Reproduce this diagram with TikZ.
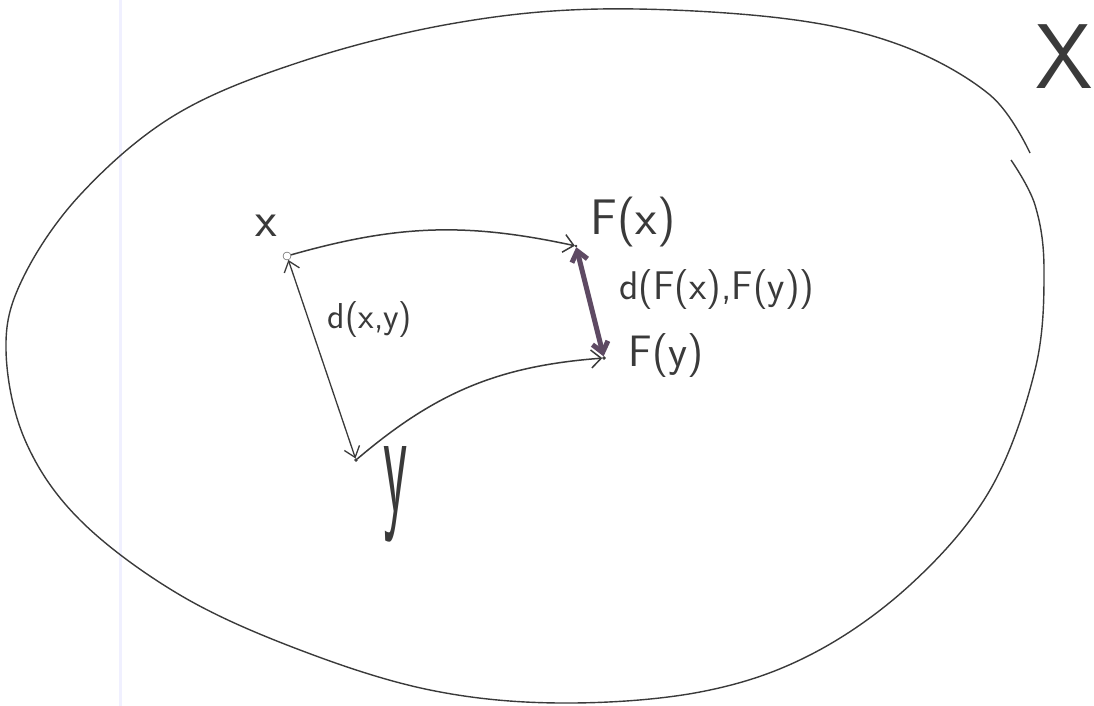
\documentclass[tikz,border=0pt]{standalone}
\usepackage{amsmath}
\usepackage{xcolor}
\usepackage{tikz}
\usetikzlibrary{arrows.meta}

\definecolor{pencil}{HTML}{3A3A3A}
\definecolor{plum}{HTML}{5E4A63}

\begin{document}
\begin{tikzpicture}[x=1pt, y=-1pt,
			% Define the styles for the points, labels and arrows
			pt/.style={circle, draw=pencil, fill=pencil, inner sep=0pt, minimum size=4pt},
			lbl/.style={text=pencil, inner sep=0pt, font=\sffamily\fontsize{50}{54}\selectfont},
			map/.style={draw=pencil, line width=1.5pt, -{Straight Barb[length=10pt, width=18pt]}},
			dist/.style={draw=pencil, line width=1.3pt, {Straight Barb[length=10pt, width=16pt]}-{Straight Barb[length=10pt, width=16pt]}}
			]
			
			\useasboundingbox (0,0) rectangle (1094,706);
			
			% margin line of the sheet
			\draw[blue!6, line width=3pt] (120,0) -- (120,706);
			
			% the space
			\draw[pencil, line width=1.4pt] plot[smooth, tension=0.6] coordinates {
				(1030,153) (990,95) (900,45) (780,18) (600,9) (450,24) (300,62) (175,115)
				(80,195) (22,280) (6,350) (25,440) (80,520) (180,595) (300,650) (430,690)
				(560,703) (700,692) (810,655) (910,585) (990,490) (1035,370) (1044,270) (1035,205) (1011,160)};
			\node (space) at (1064,57) [lbl, font=\sffamily\fontsize{92}{96}\selectfont] {X};
			
			% points
			\node (px) at (287,256) [pt, fill=white, minimum size=8pt] {};
			\node (py) at (356,460) [pt, minimum size=3pt] {};
			\node (pFx) at (576,246) [pt, minimum size=2pt] {};
			\node (pFy) at (604,358) [pt, minimum size=3pt] {};
			
			% labels
			\node (lx) at (266,226) [lbl] {x};
			\node (ly) at (396,494) [lbl, font=\sffamily\fontsize{56}{60}\selectfont] {\scalebox{1}[2.7]{y}};
			\node (lFx) at (633,222) [lbl] {F(x)};
			\node (lFy) at (666,356) [lbl, font=\sffamily\fontsize{44}{48}\selectfont] {F(y)};
			\node (ldxy) at (370,320) [lbl, font=\sffamily\fontsize{36}{40}\selectfont] {d(x,y)};
			\node (ldF) at (717,290) [lbl, font=\sffamily\fontsize{40}{44}\selectfont] {d(F(x),F(y))};
			
			% arrows
			\draw[map] (px) to[bend left=14] (pFx);
			\draw[map] (py) to[bend left=18] (pFy);
			\draw[dist] (px) -- (py);
			\draw[dist, draw=plum, line width=5pt] (pFx) -- (pFy);
			
		\end{tikzpicture}
\end{document}
